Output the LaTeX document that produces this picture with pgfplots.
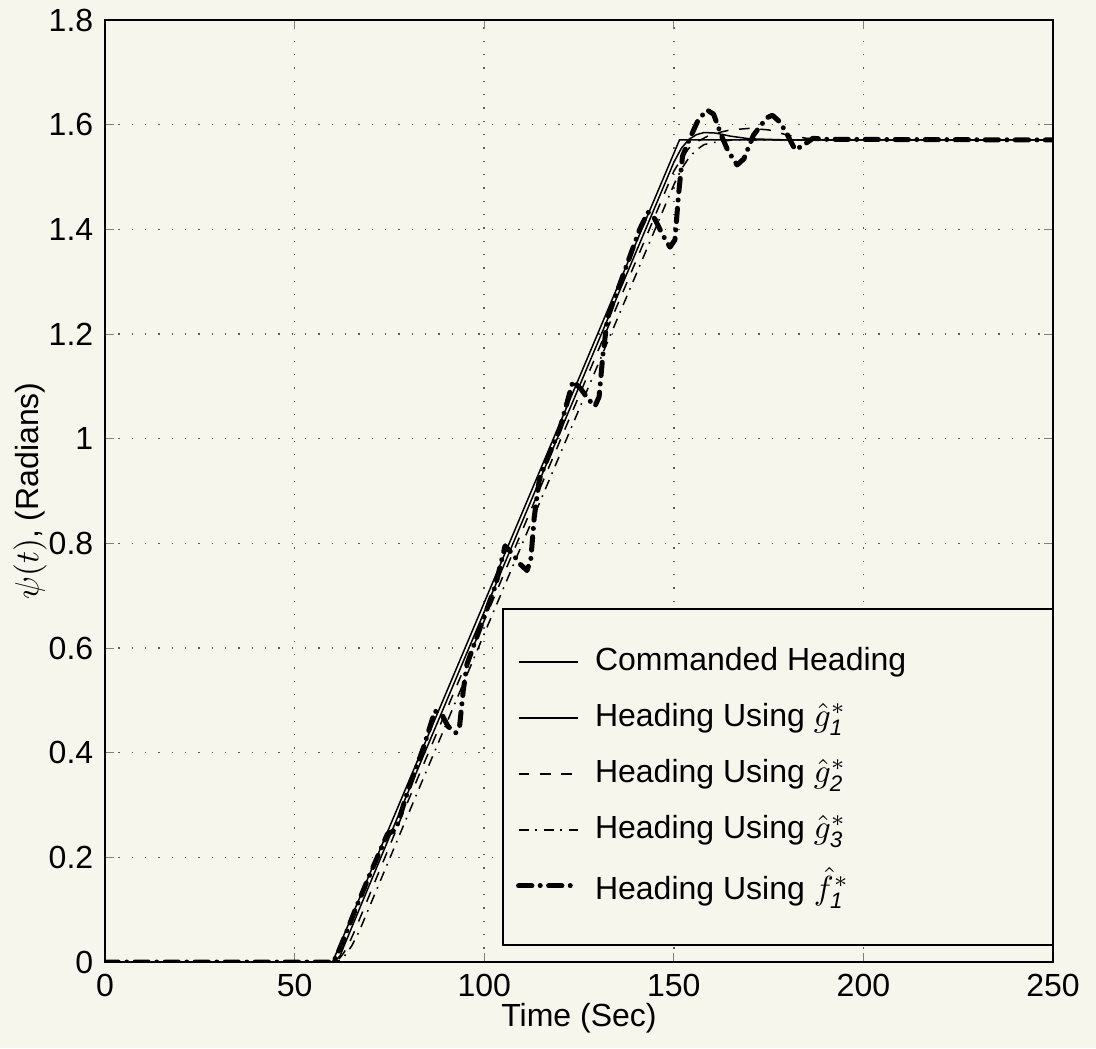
\documentclass[border=0pt]{standalone}
\usepackage{pgfplots}
\pgfplotsset{compat=1.18}
\usepackage{fontspec}
\setmainfont{Liberation Sans}
\definecolor{bgc}{RGB}{246,246,236}
\definecolor{gridc}{RGB}{90,90,90}
\begin{document}
\begin{tikzpicture}
\fill[bgc] (-31.5pt,-25.8pt) rectangle (297.3pt,288.6pt);
\begin{axis}[
  at={(0,0)}, anchor=south west,
  scale only axis, width=284.4pt, height=282.6pt,
  xmin=0, xmax=250, ymin=0, ymax=1.8,
  xtick={0,50,...,250},
  ytick={0,0.2,0.4,0.6,0.8,1,1.2,1.4,1.6,1.8},
  /pgf/number format/assume math mode=true,
  tick label style={font=\fontsize{9.6}{11}\selectfont},
  tick align=inside, major tick length=2.7pt,
  xtick pos=both, ytick pos=both,
  axis line style={line width=0.5pt},
  grid=major,
  major grid style={gridc, line width=0.45pt, dash pattern=on 0.4pt off 3.6pt},
  every axis x label/.style={at={(rel axis cs:0.5,0)}, yshift=-17pt, anchor=center},
  every axis y label/.style={at={(rel axis cs:0,0.5)}, xshift=-22.5pt, rotate=90, anchor=center},
  xlabel={\fontsize{9.6}{11}\selectfont Time (Sec)},
  ylabel={\fontsize{9.6}{11}\selectfont $\psi(t)$, (Radians)},
  legend style={draw=none, fill=none, inner sep=0pt, outer sep=0pt,
    at={(axis cs:108.4,0.627)}, anchor=north west,
    font=\fontsize{9.6}{11}\selectfont, row sep=0pt,
    nodes={minimum height=16.8pt, inner sep=0pt, outer sep=0pt}},
  legend cell align=left,
  legend image code/.code={\draw[#1] (0pt,0pt) -- (17.7pt,0pt); \path (22.2pt,0pt);},
]
\draw[line width=0.5pt, fill=bgc] (axis cs:105,0.0325) rectangle (axis cs:250,0.675);

% Commanded heading
\addplot[black, line width=0.45pt] coordinates {(0,0) (60,0) (151.5,1.5708) (250,1.5708)};
\addlegendentry{Commanded Heading}

% g1
\addplot[black, line width=0.45pt] coordinates {
(0,0)(60,0)(61,0.004)(62,0.012)(63,0.03)(65,0.065)(80,0.326)(100,0.669)(120,1.013)(140,1.356)(150,1.528)(152,1.555)(154,1.572)(156,1.581)(158,1.585)(161,1.584)(165,1.578)(170,1.573)(180,1.5708)(250,1.5708)};
\addlegendentry{Heading Using $\hat{g}^{*}_{\mathit{1}}$}

% g2
\addplot[black, line width=0.45pt, dash pattern=on 3.2pt off 3.2pt] coordinates {
(0,0)(60,0)(61,0.002)(62,0.008)(63,0.018)(64,0.03)(66,0.062)(80,0.309)(100,0.652)(120,0.996)(140,1.339)(150,1.511)(152,1.535)(154,1.555)(156,1.567)(160,1.582)(165,1.59)(170,1.593)(175,1.59)(180,1.58)(185,1.574)(190,1.571)(250,1.5708)};
\addlegendentry{Heading Using $\hat{g}^{*}_{\mathit{2}}$}

% g3
\addplot[black, line width=0.45pt, dash pattern=on 3pt off 2pt on 0.5pt off 2pt] coordinates {
(0,0)(60,0)(62,0.003)(63,0.01)(64,0.02)(65,0.03)(67,0.058)(80,0.283)(100,0.627)(120,0.97)(140,1.313)(150,1.485)(152,1.515)(154,1.537)(156,1.552)(158,1.562)(162,1.568)(166,1.571)(250,1.5708)};
\addlegendentry{Heading Using $\hat{g}^{*}_{\mathit{3}}$}

% f1
\addplot[black, line width=1.5pt, line cap=round, line join=round, dash pattern=on 4pt off 2.5pt on 0.01pt off 2.5pt] coordinates {
(0,0)(60,0)(61,0.01)(63,0.045)(66,0.1)(70,0.17)(73,0.22)(74.5,0.245)(76,0.25)(77,0.26)(80,0.33)(84,0.41)(87,0.48)(89,0.47)(90.5,0.45)(92.5,0.438)(93.5,0.45)(94.5,0.52)(95.5,0.57)(97,0.6)(100,0.66)(103,0.72)(105.5,0.795)(107.5,0.78)(109.5,0.76)(111.3,0.748)(112.3,0.77)(113.2,0.85)(114.5,0.92)(116,0.95)(120,1.02)(123.4,1.11)(125.5,1.095)(127.5,1.075)(129.2,1.062)(130.3,1.08)(131.3,1.16)(132.5,1.23)(134,1.26)(138,1.34)(141,1.40)(143.2,1.433)(145,1.42)(147,1.39)(149,1.366)(150.3,1.38)(151.3,1.47)(152.3,1.54)(154.3,1.575)(156.5,1.61)(158.8,1.628)(160.5,1.62)(162.5,1.58)(164.3,1.55)(166.7,1.523)(168.5,1.535)(171,1.58)(174.5,1.613)(176,1.618)(178,1.605)(180,1.58)(182,1.552)(184,1.56)(186.7,1.574)(190,1.572)(250,1.5708)};
\addlegendentry{Heading Using $\hat{f}^{*}_{\mathit{1}}$}
\end{axis}
\pgfresetboundingbox
\path[use as bounding box] (-31.5pt,-25.8pt) rectangle (297.3pt,288.6pt);
\end{tikzpicture}
\end{document}
